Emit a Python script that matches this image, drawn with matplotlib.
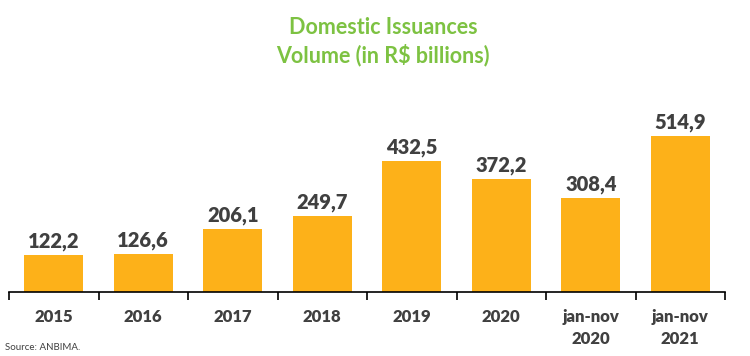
import matplotlib
matplotlib.use("Agg")
import matplotlib.pyplot as plt
import numpy as np

categories = ["2015", "2016", "2017", "2018", "2019", "2020", "jan-nov\n2020", "jan-nov\n2021"]
values = [122.2, 126.6, 206.1, 249.7, 432.5, 372.2, 308.4, 514.9]
value_labels = ["122,2", "126,6", "206,1", "249,7", "432,5", "372,2", "308,4", "514,9"]

plt.rcParams['font.family'] = ['Lato', 'DejaVu Sans']

fig = plt.figure(figsize=(7.5, 3.56), dpi=100)
ax = fig.add_axes([9/750, 1 - 292/356, (725 - 9)/750, 192/356])

x = np.arange(len(categories))
ax.bar(x, values, width=0.66, color="#FDB119", zorder=2)
for xi, v, lab in zip(x, values, value_labels):
    ax.text(xi, v + 13, lab, ha="center", va="bottom", fontsize=14.5, fontweight="heavy", color="#404040")

ax.set_xlim(-0.5, len(categories) - 0.5)
ax.set_ylim(0, 632)
for s in ["top", "right", "left"]:
    ax.spines[s].set_visible(False)
ax.spines["bottom"].set_color("#000000")
ax.spines["bottom"].set_linewidth(1.2)
ax.set_yticks([])
ax.set_xticks(x)
ax.set_xticklabels(categories, fontsize=12, fontweight="heavy", color="#404040", linespacing=1.5)
ax.tick_params(axis="x", which="major", length=0, pad=12)
ax.set_xticks(np.arange(-0.5, len(categories)), minor=True)
ax.tick_params(axis="x", which="minor", length=6, width=1.2, color="#000000", direction="out")

fig.text(383/750, 1 - 27/356, "Domestic Issuances", ha="center", va="center", fontsize=15.5, fontweight="bold", color="#7DC242")
fig.text(383/750, 1 - 55/356, "Volume (in R$ billions)", ha="center", va="center", fontsize=15.5, fontweight="bold", color="#7DC242")
fig.text(5/750, 1 - 347/356, "Source: ANBIMA.", ha="left", va="center", fontsize=7, color="#404040")

fig.savefig("out.png", dpi=100)
